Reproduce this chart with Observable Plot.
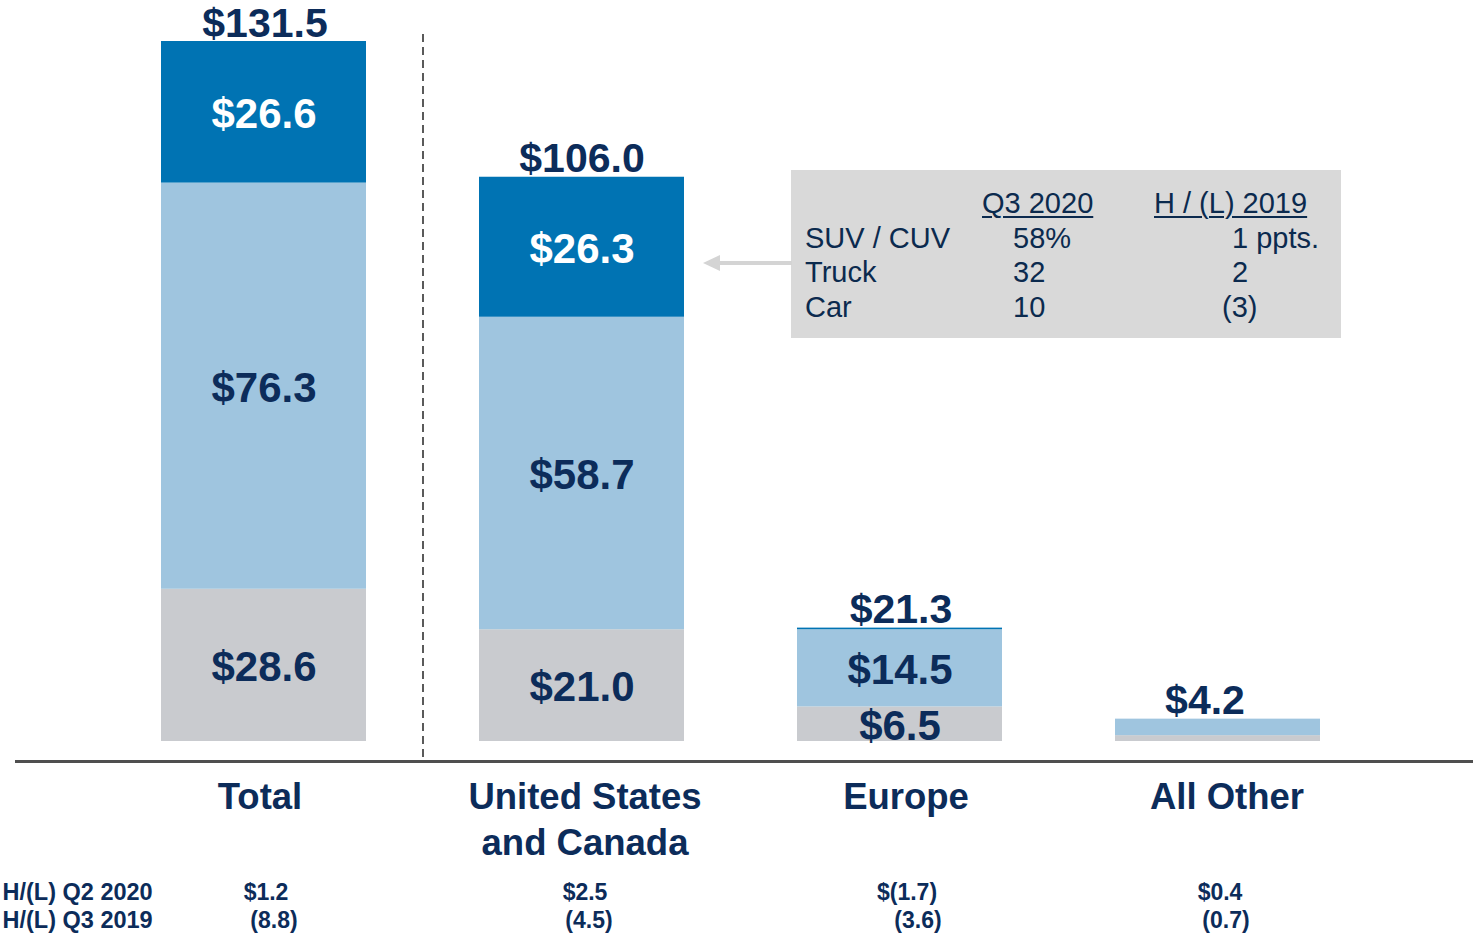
<!DOCTYPE html>
<html>
<head>
<meta charset="utf-8">
<script src="https://cdn.jsdelivr.net/npm/d3@7"></script>
<script src="https://cdn.jsdelivr.net/npm/@observablehq/plot@0.6"></script>
<style>
  body { margin: 0; background: #fff; font-family: "Liberation Sans", Arial, sans-serif; }
  #wrap { position: relative; width: 1473px; height: 933px; }
  .callout { position: absolute; left: 791px; top: 170px; width: 550px; height: 168px; background: #D9D9D9; }
  .callout span { position: absolute; font-size: 29px; line-height: 34px; color: #0B2A4E; white-space: nowrap; }
  .callout .hd { text-decoration: underline; text-decoration-thickness: 2px; text-underline-offset: 3px; }
  .arrow { position: absolute; left: 700px; top: 253px; }
</style>
</head>
<body>
<div id="wrap"></div>
<script>
// ---- data ----
const regions = ["Total", "United States and Canada", "Europe", "All Other"];
const regionLabels = ["Total", "United States\nand Canada", "Europe", "All Other"];
const segments = ["bottom", "middle", "top"];
const bottomValues = [28.6, 21.0, 6.5, 1.1];
const middleValues = [76.3, 58.7, 14.5, 3.1];
const topValues = [26.6, 26.3, 0.3, 0.0];
const totals = [131.5, 106.0, 21.3, 4.2];
const changeQ2 = ["$1.2", "$2.5", "$(1.7)", "$0.4"];
const changeQ3 = ["(8.8)", "(4.5)", "(3.6)", "(0.7)"];
const rowLabels = ["H/(L) Q2 2020", "H/(L) Q3 2019"];
const dividerExtent = [-3.0, 133.6];

const navy = "#0C2C5A";
const seriesValues = [bottomValues, middleValues, topValues];
const rows = regions.flatMap((r, i) => segments.map((s, j) => ({region: r, segment: s, value: seriesValues[j][i]})));

// segment midpoints for labels
const labelRows = [];
regions.forEach((r, i) => {
  let base = 0;
  segments.forEach((s, j) => {
    const v = seriesValues[j][i];
    if (v >= 5) labelRows.push({region: r, segment: s, y: base + v / 2, text: "$" + v.toFixed(1)});
    base += v;
  });
});

const totalRows = regions.map((r, i) => ({region: r, value: totals[i], text: "$" + totals[i].toFixed(1)}));
const catRows = regions.map((r, i) => ({region: r, label: regionLabels[i], q2: changeQ2[i], q3: changeQ3[i]}));

// small per-column text nudges (layout only)
const totalDx = [1, 0, 1, -13];
const catDx = [-4, 3, 6, 9];
const q2Dx = [2, 3, 7, 2];
const q3Dx = [10, 7, 18, 8];

const plot = Plot.plot({
  width: 1473,
  height: 933,
  marginLeft: 15,
  marginRight: 0,
  marginTop: 0,
  marginBottom: 0,
  style: {fontFamily: "'Liberation Sans', Arial, sans-serif", background: "white"},
  x: {domain: regions, range: [103.67, 1378.33], paddingInner: 0.354, paddingOuter: 0.177, axis: null},
  y: {domain: [0, 131.5], range: [741, 41], axis: null},
  color: {domain: segments, range: ["#C9CBCF", "#9FC5DF", "#0073B3"]},
  marks: [
    Plot.barY(rows, {x: "region", y: "value", fill: "segment"}),
    Plot.text(labelRows, {x: "region", y: "y", text: "text", fontSize: 42, fontWeight: "bold", dy: 2,
      fill: d => d.segment === "top" ? "white" : navy}),
    ...totalRows.map((d, i) => Plot.text([d], {x: "region", y: "value", text: "text", fontSize: 41, fontWeight: "bold", fill: navy, dy: -18, dx: totalDx[i]})),
    Plot.ruleY([0], {dy: 20, stroke: "#4F4F4F", strokeWidth: 3}),
    Plot.ruleX([regions[0]], {x: d => d, dx: 159, y1: dividerExtent[0], y2: dividerExtent[1],
      stroke: "#5A5A5A", strokeWidth: 2, strokeDasharray: "8,5"}),
    ...catRows.map((d, i) => Plot.text([d], {x: "region", y: 0, text: "label", fontSize: 36.5, fontWeight: "bold", fill: navy,
      lineAnchor: "top", lineHeight: 1.26, dy: 35, dx: catDx[i]})),
    ...catRows.map((d, i) => Plot.text([d], {x: "region", y: 0, text: "q2", fontSize: 23, fontWeight: "bold", fill: navy, dy: 151, dx: q2Dx[i]})),
    ...catRows.map((d, i) => Plot.text([d], {x: "region", y: 0, text: "q3", fontSize: 23, fontWeight: "bold", fill: navy, dy: 179, dx: q3Dx[i]})),
    Plot.text([rowLabels[0]], {y: 0, frameAnchor: "left", text: d => d, textAnchor: "start", fontSize: 23.5, fontWeight: "bold", fill: navy, dx: -13, dy: 151}),
    Plot.text([rowLabels[1]], {y: 0, frameAnchor: "left", text: d => d, textAnchor: "start", fontSize: 23.5, fontWeight: "bold", fill: navy, dx: -13, dy: 179})
  ]
});

const wrap = document.getElementById("wrap");
wrap.appendChild(plot);

// ---- callout annotation ----
const calloutCols = ["Q3 2020", "H / (L) 2019"];
const calloutRows = ["SUV / CUV", "Truck", "Car"];
const mixQ3 = ["58%", "32", "10"];
const mixChange = ["1 ppts.", "2", "(3)"];

const box = document.createElement("div");
box.className = "callout";
let html = `<span class="hd" style="left:191px;top:16px">${calloutCols[0]}</span>` +
           `<span class="hd" style="left:363px;top:16px">${calloutCols[1]}</span>`;
const rowTops = [51, 85, 120];
const changeLefts = [441, 441, 431];
calloutRows.forEach((r, i) => {
  html += `<span style="left:14px;top:${rowTops[i]}px">${r}</span>`;
  html += `<span style="left:222px;top:${rowTops[i]}px">${mixQ3[i]}</span>`;
  html += `<span style="left:${changeLefts[i]}px;top:${rowTops[i]}px">${mixChange[i]}</span>`;
});
box.innerHTML = html;
wrap.appendChild(box);

const arrow = document.createElementNS("http://www.w3.org/2000/svg", "svg");
arrow.setAttribute("class", "arrow");
arrow.setAttribute("width", "92");
arrow.setAttribute("height", "20");
arrow.innerHTML = `<line x1="16" y1="10" x2="92" y2="10" stroke="#D4D4D4" stroke-width="4"/>
  <polygon points="3,10 20,2 20,18" fill="#D4D4D4"/>`;
wrap.appendChild(arrow);
</script>
</body>
</html>
